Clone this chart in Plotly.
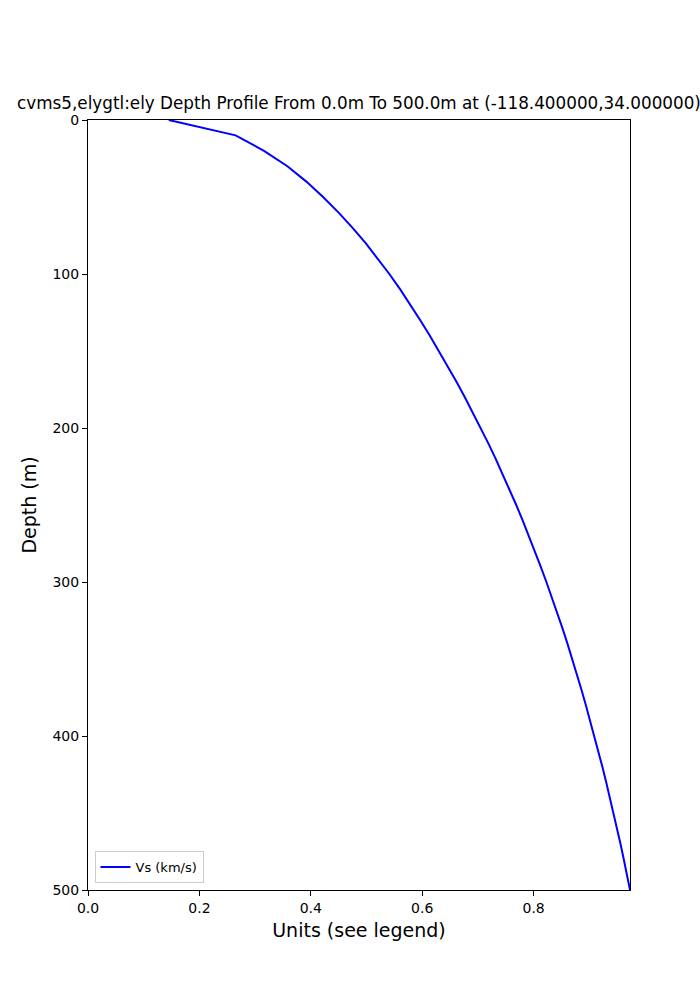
import plotly.graph_objects as go

depth_m = [0, 10, 20, 30, 40, 50, 60, 70, 80, 90,
           100, 110, 120, 130, 140, 150, 160, 170, 180, 190,
           200, 210, 220, 230, 240, 250, 260, 270, 280, 290,
           300, 310, 320, 330, 340, 350, 360, 370, 380, 390,
           400, 410, 420, 430, 440, 450, 460, 470, 480, 490, 500]
vs_kms = [0.145, 0.265, 0.316, 0.358, 0.392, 0.422, 0.4495, 0.4750, 0.4985, 0.5205,
          0.5410, 0.5605, 0.5790, 0.5965, 0.6135, 0.6300, 0.6460, 0.6615, 0.6765, 0.6910,
          0.7050, 0.7187, 0.7319, 0.7446, 0.7569, 0.7688, 0.7803, 0.7914, 0.8022, 0.8127,
          0.8229, 0.8328, 0.8424, 0.8517, 0.8607, 0.8694, 0.8778, 0.8859, 0.8938, 0.9015,
          0.9090, 0.9163, 0.9234, 0.9303, 0.9370, 0.9435, 0.9498, 0.9559, 0.9618, 0.9675, 0.9730]

x_ticks = [0.0, 0.2, 0.4, 0.6, 0.8]
y_ticks = [0, 100, 200, 300, 400, 500]

font_family = "DejaVu Sans"

fig = go.Figure()
fig.add_trace(go.Scatter(
    x=vs_kms, y=depth_m, mode="lines", name="Vs (km/s)",
    line=dict(color="#0000ff", width=2),
))

fig.update_layout(
    width=700, height=1000,
    margin=dict(l=88, r=70, t=120, b=110),
    paper_bgcolor="white", plot_bgcolor="white",
    font=dict(family=font_family, color="black", size=14),
    title=dict(
        text="cvms5,elygtl:ely Depth Profile From 0.0m To 500.0m at (-118.400000,34.000000)",
        x=0.5, xref="paper", xanchor="center",
        y=1, yref="paper", yanchor="bottom", pad=dict(b=11),
        font=dict(size=16.8, family=font_family, color="black"),
    ),
    showlegend=True,
    legend=dict(
        x=0.012, y=0.009, xanchor="left", yanchor="bottom",
        xref="paper", yref="paper",
        bordercolor="#cccccc", borderwidth=1, bgcolor="white",
        font=dict(size=13, family=font_family),
    ),
)

fig.update_xaxes(
    range=[0, max(vs_kms)], tickvals=x_ticks, tickformat=".1f",
    ticks="outside", ticklen=5, tickcolor="black", tickwidth=1,
    showline=True, linecolor="black", linewidth=1, mirror=True,
    showgrid=False, zeroline=False,
    title=dict(text="Units (see legend)", font=dict(size=19, family=font_family), standoff=8),
    tickfont=dict(size=14),
)
fig.update_yaxes(
    range=[500, 0], tickvals=y_ticks,
    ticks="outside", ticklen=5, tickcolor="black", tickwidth=1,
    showline=True, linecolor="black", linewidth=1, mirror=True,
    showgrid=False, zeroline=False,
    title=dict(text="Depth (m)", font=dict(size=19, family=font_family), standoff=10),
    tickfont=dict(size=14),
)

fig.write_html(
    "out.html",
    config={"displayModeBar": False},
    post_script="document.body.style.margin='0';document.body.style.overflow='hidden';",
)
